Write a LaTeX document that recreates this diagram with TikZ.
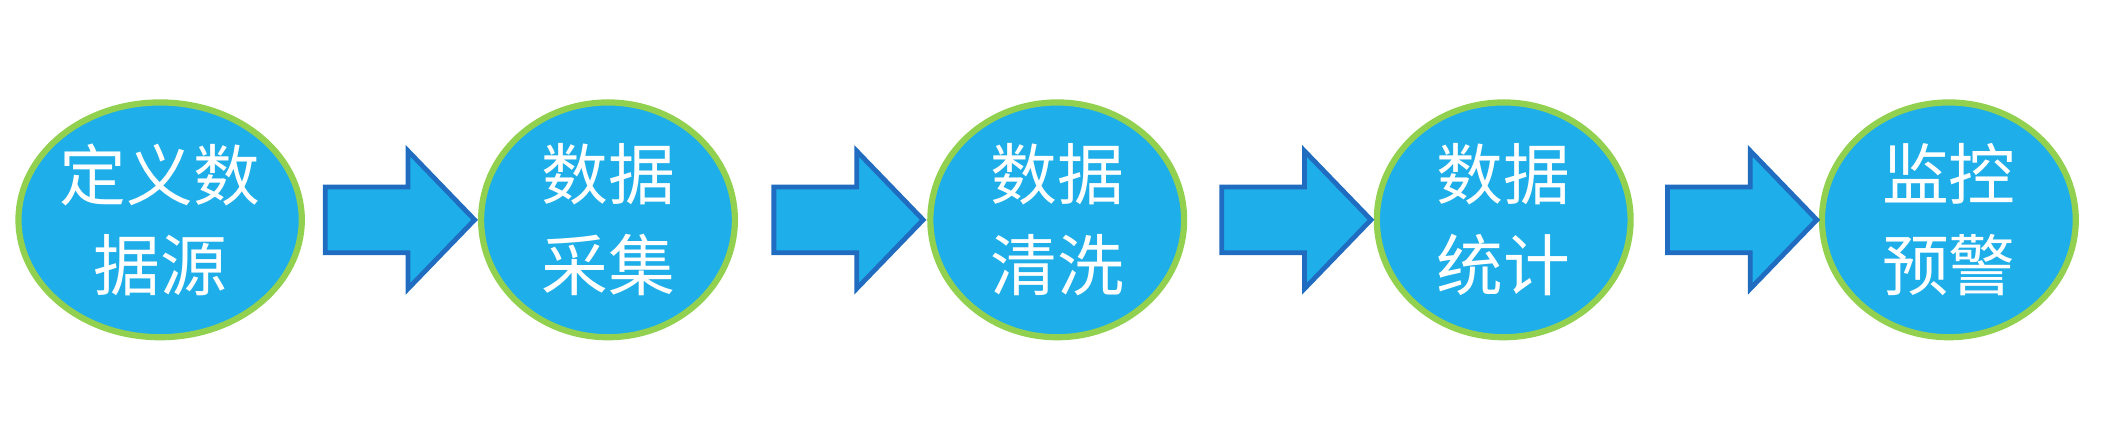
\documentclass[tikz,border=0pt]{standalone}
\usepackage{fontspec}
\newfontfamily\cjk{Noto Sans CJK SC}
\usetikzlibrary{shapes.arrows,shapes.geometric,calc}
\definecolor{ballblue}{HTML}{1EAEE9}
\definecolor{ballrim}{HTML}{92D050}
\definecolor{arrowrim}{HTML}{1F6CC0}
\tikzset{
  stage/.style={ellipse, fill=ballblue, draw=ballrim, line width=1.3pt, minimum width=1.87cm, minimum height=1.73cm, inner sep=0pt, text=white, font=\cjk\fontsize{14}{19}\selectfont, align=center},
  flow/.style={single arrow, fill=ballblue, draw=arrowrim, line width=1pt, minimum height=1.1cm, minimum width=0.98cm, inner xsep=0pt, inner ysep=0.225cm, single arrow head extend=0.265cm, single arrow tip angle=92}
}
\begin{document}
\begin{tikzpicture}
      \useasboundingbox (0,0) rectangle (15.68,-3.124);
      \node[stage] (so) at (1.18,-1.62) {定义数\\据源};
      \node[stage] (s2) at (4.48,-1.62) {数据\\采集};
      \node[stage] (s3) at (7.79,-1.62) {数据\\清洗};
      \node[stage] (s4) at (11.08,-1.62) {数据\\统计};
      \node[stage] (s5) at (14.36,-1.62) {监控\\预警};

      \node[flow] (a1) at ($(so)!0.5!(s2)$) {};
      \node[flow] (a2) at ($(s2)!0.5!(s3)$) {};
      \node[flow] (a3) at ($(s3)!0.5!(s4)$) {};
      \node[flow] (a4) at ($(s4)!0.5!(s5)$) {};
    \end{tikzpicture}
\end{document}
